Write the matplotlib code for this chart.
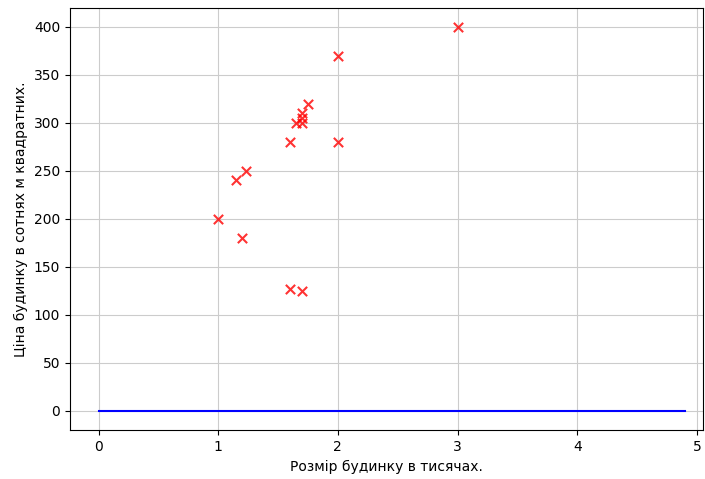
import numpy as np
import matplotlib.pyplot as plt

# house size (thousands) and price (hundreds of thousands)
size = [1.0, 1.2, 1.15, 1.23, 1.6, 2.0, 1.65, 1.7, 1.7, 1.7, 1.75, 2.0, 3.0, 1.6, 1.7]
price = [200, 180, 240, 250, 280, 280, 300, 300, 305, 310, 320, 370, 400, 127, 125]

line_x = [0, 4.9]
line_y = [0, 0]

fig = plt.figure(figsize=(7.05, 4.79), dpi=100)
ax = fig.add_axes([0.099, 0.102, 0.898, 0.882])
ax.scatter(size, price, marker='x', c='r', s=45, zorder=3, alpha=0.8)
ax.plot(line_x, line_y, c='b')
ax.set_xlim(-0.24, 5.05)
ax.set_ylim(-20, 420)
ax.grid(True, color='#cccccc')
ax.set_xlabel("Розмір будинку в тисячах.")
ax.set_ylabel("Ціна будинку в сотнях м квадратних.")
fig.savefig("out.png")
